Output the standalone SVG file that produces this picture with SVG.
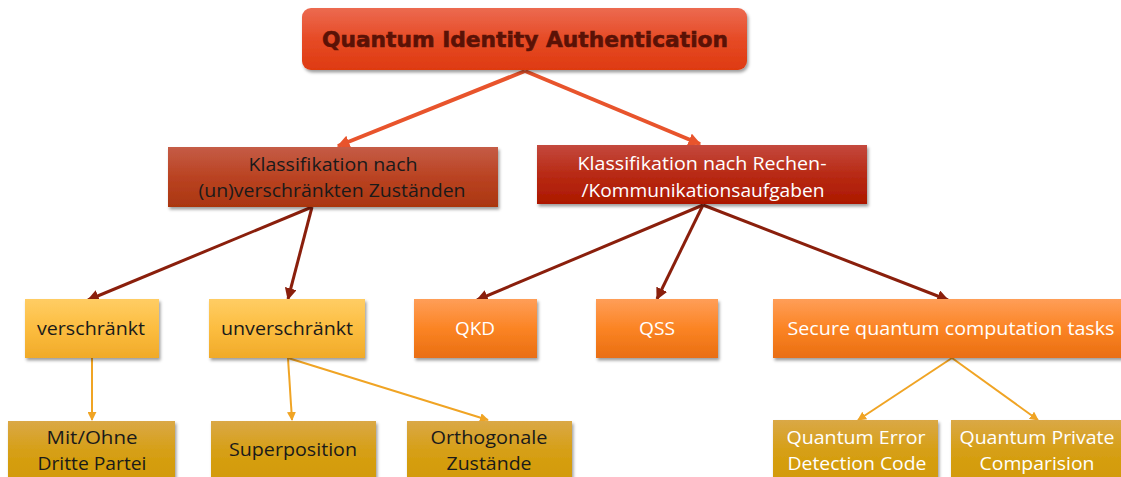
<svg xmlns="http://www.w3.org/2000/svg" width="1121" height="477" viewBox="0 0 1121 477">
  <style>
    .t { font-family: "Open Sans", "Noto Sans", sans-serif; font-size: 18px; text-anchor: middle; }
    .dark { fill: #1a1a1a; }
    .light { fill: #ffffff; }
    .title { font-family: "DejaVu Sans", "Liberation Sans", sans-serif; font-weight: bold; font-size: 22px; fill: #5a1206; stroke: #5a1206; stroke-width: 0.6; text-anchor: middle; }
    .c1 { stroke: #e8542c; stroke-width: 4; fill: none; }
    .c2 { stroke: #8a1f0c; stroke-width: 3; fill: none; }
    .c3 { stroke: #f0a424; stroke-width: 2; fill: none; }
  </style>
  <defs>
    <linearGradient id="gTop" x1="0" y1="0" x2="0" y2="1">
      <stop offset="0" stop-color="#ec6a50"/>
      <stop offset="0.5" stop-color="#e64b26"/>
      <stop offset="1" stop-color="#de3a10"/>
    </linearGradient>
    <linearGradient id="gL2a" x1="0" y1="0" x2="0" y2="1">
      <stop offset="0" stop-color="#c55c46"/>
      <stop offset="0.5" stop-color="#ba4322"/>
      <stop offset="1" stop-color="#aa3610"/>
    </linearGradient>
    <linearGradient id="gL2b" x1="0" y1="0" x2="0" y2="1">
      <stop offset="0" stop-color="#c4493e"/>
      <stop offset="0.5" stop-color="#b82a14"/>
      <stop offset="1" stop-color="#ac1800"/>
    </linearGradient>
    <linearGradient id="gYel" x1="0" y1="0" x2="0" y2="1">
      <stop offset="0" stop-color="#ffcd64"/>
      <stop offset="0.5" stop-color="#fcbd40"/>
      <stop offset="1" stop-color="#f0aa28"/>
    </linearGradient>
    <linearGradient id="gOra" x1="0" y1="0" x2="0" y2="1">
      <stop offset="0" stop-color="#ff9e58"/>
      <stop offset="0.5" stop-color="#fb8424"/>
      <stop offset="1" stop-color="#e96e12"/>
    </linearGradient>
    <linearGradient id="gGold" x1="0" y1="0" x2="0" y2="1">
      <stop offset="0" stop-color="#daa846"/>
      <stop offset="0.5" stop-color="#d69f14"/>
      <stop offset="1" stop-color="#d29a06"/>
    </linearGradient>
    <filter id="sh" x="-10%" y="-20%" width="120%" height="150%">
      <feDropShadow dx="1.5" dy="2.5" stdDeviation="1.8" flood-color="#000" flood-opacity="0.38"/>
    </filter>
    <marker id="a1" viewBox="0 0 10 10" refX="9" refY="5" markerWidth="3.2" markerHeight="3.2" orient="auto" markerUnits="strokeWidth">
      <path d="M0,0 L10,5 L0,10 Z" fill="#e8542c"/>
    </marker>
    <marker id="a2" viewBox="0 0 10 10" refX="9" refY="5" markerWidth="4" markerHeight="4" orient="auto" markerUnits="strokeWidth">
      <path d="M0,0 L10,5 L0,10 Z" fill="#8a1f0c"/>
    </marker>
    <marker id="a3" viewBox="0 0 10 10" refX="9" refY="5" markerWidth="4.5" markerHeight="4.5" orient="auto" markerUnits="strokeWidth">
      <path d="M0,0 L10,5 L0,10 Z" fill="#f0a424"/>
    </marker>
  </defs>

  <g id="connectors">
    <line class="c1" x1="525" y1="71" x2="338" y2="146" marker-end="url(#a1)"/>
    <line class="c1" x1="525" y1="71" x2="700" y2="144" marker-end="url(#a1)"/>
    <line class="c2" x1="312" y1="207" x2="88" y2="300" marker-end="url(#a2)"/>
    <line class="c2" x1="312" y1="207" x2="288" y2="299" marker-end="url(#a2)"/>
    <line class="c2" x1="703" y1="205" x2="477" y2="300" marker-end="url(#a2)"/>
    <line class="c2" x1="703" y1="205" x2="657" y2="299" marker-end="url(#a2)"/>
    <line class="c2" x1="703" y1="205" x2="948" y2="300" marker-end="url(#a2)"/>
    <line class="c3" x1="92" y1="358" x2="92" y2="420" marker-end="url(#a3)"/>
    <line class="c3" x1="288" y1="358" x2="292" y2="420" marker-end="url(#a3)"/>
    <line class="c3" x1="288" y1="358" x2="488" y2="420" marker-end="url(#a3)"/>
    <line class="c3" x1="952" y1="358" x2="858" y2="420" marker-end="url(#a3)"/>
    <line class="c3" x1="952" y1="358" x2="1038" y2="420" marker-end="url(#a3)"/>
  </g>

  <g id="qia">
    <rect x="302" y="8" width="445" height="62" rx="9" fill="url(#gTop)" filter="url(#sh)"/>
    <text class="title" x="525" y="47" textLength="406" lengthAdjust="spacingAndGlyphs">Quantum Identity Authentication</text>
  </g>

  <g id="klass-zustaende">
    <rect x="168" y="147" width="330" height="60" fill="url(#gL2a)" filter="url(#sh)"/>
    <text class="t dark" x="333" y="171" textLength="169" lengthAdjust="spacingAndGlyphs">Klassifikation nach</text>
    <text class="t dark" x="332" y="197" textLength="267" lengthAdjust="spacingAndGlyphs">(un)verschränkten Zuständen</text>
  </g>

  <g id="klass-aufgaben">
    <rect x="537" y="145" width="330" height="59" fill="url(#gL2b)" filter="url(#sh)"/>
    <text class="t light" x="702" y="170" textLength="249" lengthAdjust="spacingAndGlyphs">Klassifikation nach Rechen-</text>
    <text class="t light" x="703" y="197" textLength="243" lengthAdjust="spacingAndGlyphs">/Kommunikationsaufgaben</text>
  </g>

  <g id="verschraenkt">
    <rect x="25" y="299" width="134" height="59" fill="url(#gYel)" filter="url(#sh)"/>
    <text class="t dark" x="91" y="335" textLength="108" lengthAdjust="spacingAndGlyphs">verschränkt</text>
  </g>

  <g id="unverschraenkt">
    <rect x="209" y="299" width="156" height="59" fill="url(#gYel)" filter="url(#sh)"/>
    <text class="t dark" x="287" y="335" textLength="132" lengthAdjust="spacingAndGlyphs">unverschränkt</text>
  </g>

  <g id="qkd">
    <rect x="414" y="299" width="123" height="59" fill="url(#gOra)" filter="url(#sh)"/>
    <text class="t light" x="475" y="335" textLength="40" lengthAdjust="spacingAndGlyphs">QKD</text>
  </g>

  <g id="qss">
    <rect x="596" y="299" width="122" height="59" fill="url(#gOra)" filter="url(#sh)"/>
    <text class="t light" x="657" y="335" textLength="36" lengthAdjust="spacingAndGlyphs">QSS</text>
  </g>

  <g id="secure-tasks">
    <rect x="773" y="299" width="352" height="59" fill="url(#gOra)" filter="url(#sh)"/>
    <text class="t light" x="951" y="335" textLength="327" lengthAdjust="spacingAndGlyphs">Secure quantum computation tasks</text>
  </g>

  <g id="dritte-partei">
    <rect x="8" y="421" width="167" height="62" fill="url(#gGold)" filter="url(#sh)"/>
    <text class="t dark" x="92" y="444" textLength="91" lengthAdjust="spacingAndGlyphs">Mit/Ohne</text>
    <text class="t dark" x="92" y="470" textLength="109" lengthAdjust="spacingAndGlyphs">Dritte Partei</text>
  </g>

  <g id="superposition">
    <rect x="211" y="421" width="165" height="62" fill="url(#gGold)" filter="url(#sh)"/>
    <text class="t dark" x="293" y="456" textLength="128" lengthAdjust="spacingAndGlyphs">Superposition</text>
  </g>

  <g id="orthogonale">
    <rect x="407" y="421" width="165" height="62" fill="url(#gGold)" filter="url(#sh)"/>
    <text class="t dark" x="489" y="444" textLength="117" lengthAdjust="spacingAndGlyphs">Orthogonale</text>
    <text class="t dark" x="489" y="470" textLength="85" lengthAdjust="spacingAndGlyphs">Zustände</text>
  </g>

  <g id="qedc">
    <rect x="773" y="420" width="165" height="63" fill="url(#gGold)" filter="url(#sh)"/>
    <text class="t light" x="856" y="444" textLength="139" lengthAdjust="spacingAndGlyphs">Quantum Error</text>
    <text class="t light" x="857" y="470" textLength="139" lengthAdjust="spacingAndGlyphs">Detection Code</text>
  </g>

  <g id="qpc">
    <rect x="951" y="420" width="175" height="63" fill="url(#gGold)" filter="url(#sh)"/>
    <text class="t light" x="1037" y="444" textLength="155" lengthAdjust="spacingAndGlyphs">Quantum Private</text>
    <text class="t light" x="1037" y="470" textLength="115" lengthAdjust="spacingAndGlyphs">Comparision</text>
  </g>
</svg>
